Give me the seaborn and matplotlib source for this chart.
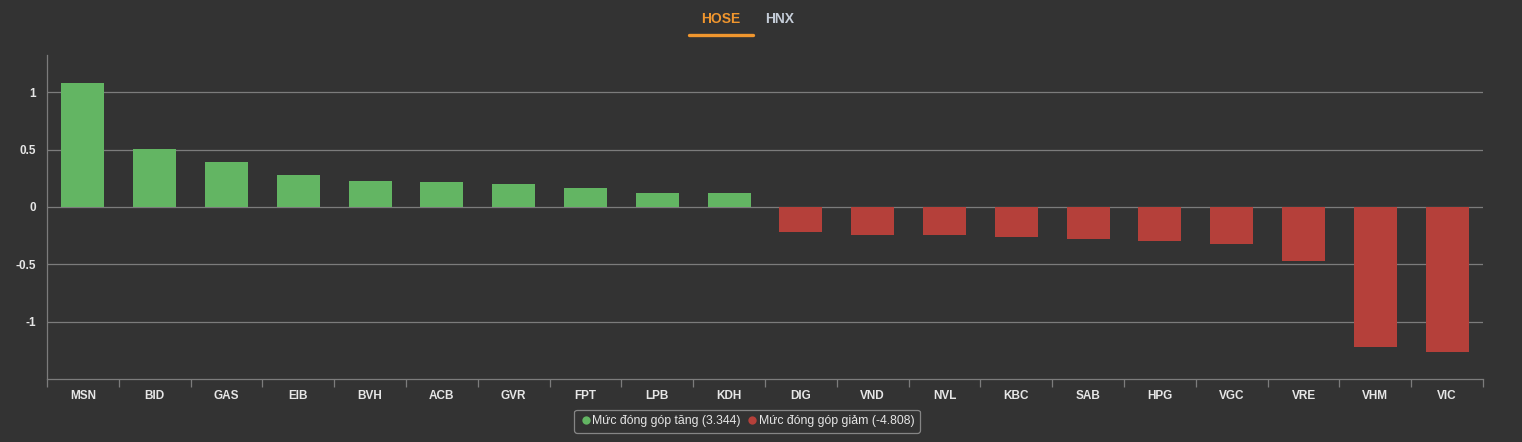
import matplotlib
matplotlib.use("Agg")
import matplotlib.pyplot as plt
from matplotlib.lines import Line2D
from matplotlib.ticker import FixedLocator, FuncFormatter
import seaborn as sns
import pandas as pd
import numpy as np

# ---- data ----
tickers = ["MSN", "BID", "GAS", "EIB", "BVH", "ACB", "GVR", "FPT", "LPB", "KDH",
           "DIG", "VND", "NVL", "KBC", "SAB", "HPG", "VGC", "VRE", "VHM", "VIC"]
values = [1.08, 0.507, 0.391, 0.276, 0.223, 0.214, 0.197, 0.162, 0.126, 0.126,
          -0.22, -0.247, -0.247, -0.258, -0.282, -0.299, -0.325, -0.473, -1.221, -1.264]
total_up = 3.344
total_down = -4.808
tabs = ["HOSE", "HNX"]
y_ticks = [-1, -0.5, 0, 0.5, 1]

BG = "#333333"
GREEN = "#63b563"
RED = "#b5403a"
GRID = "#7c7c7c"
TXT = "#e6e6e6"

label_up = f"Mức đóng góp tăng ({total_up})"
label_down = f"Mức đóng góp giảm ({total_down})"

df = pd.DataFrame({"ticker": tickers, "value": values})
df["group"] = np.where(df["value"] >= 0, label_up, label_down)

sns.set_theme(style="dark")
plt.rcParams["font.family"] = ["Liberation Sans", "DejaVu Sans"]

fig = plt.figure(figsize=(15.22, 4.42), dpi=100, facecolor=BG)
ax = fig.add_axes([47 / 1522, 1 - 379 / 442, (1483 - 47) / 1522, (379 - 55) / 442])
ax.set_facecolor(BG)

sns.barplot(data=df, x="ticker", y="value", hue="group",
            palette={label_up: GREEN, label_down: RED},
            dodge=False, width=0.6, saturation=1, legend=False, ax=ax, zorder=3)
for p in ax.patches:
    p.set_edgecolor("none")

ax.set_xlim(-0.5, len(tickers) - 0.5)
ax.set_ylim(-1.5, 1.325)
ax.set_xlabel("")
ax.set_ylabel("")

ax.yaxis.set_major_locator(FixedLocator(y_ticks))
ax.yaxis.set_major_formatter(FuncFormatter(lambda v, _: f"{v:g}"))
ax.yaxis.grid(True, color=GRID, linewidth=0.9, zorder=0)
ax.xaxis.grid(False)
ax.tick_params(axis="y", left=True, length=0, pad=8, labelsize=8.5, labelcolor=TXT)
for lab in ax.get_yticklabels():
    lab.set_fontweight("bold")

ax.tick_params(axis="x", which="major", bottom=True, length=0, pad=8, labelsize=8.5, labelcolor=TXT)
for lab in ax.get_xticklabels():
    lab.set_fontweight("bold")
ax.xaxis.set_minor_locator(FixedLocator(np.arange(-0.5, len(tickers), 1.0)))
ax.tick_params(axis="x", which="minor", bottom=True, length=6, width=0.9, color=GRID, direction="out")

for side in ["top", "right"]:
    ax.spines[side].set_visible(False)
for side in ["left", "bottom"]:
    ax.spines[side].set_visible(True)
    ax.spines[side].set_color(GRID)
    ax.spines[side].set_linewidth(0.9)

# tabs
fig.text(721 / 1522, 1 - 19 / 442, tabs[0], color="#f0962e", fontsize=10,
         fontweight="bold", ha="center", va="center")
fig.text(780 / 1522, 1 - 19 / 442, tabs[1], color="#c5cdd8", fontsize=10,
         fontweight="bold", ha="center", va="center")
fig.add_artist(Line2D([689 / 1522, 753 / 1522], [1 - 35 / 442, 1 - 35 / 442],
                      color="#f0962e", linewidth=2.4, transform=fig.transFigure))

# legend
handles = [
    Line2D([], [], marker="o", linestyle="none", markersize=6,
           markerfacecolor=GREEN, markeredgecolor="none", label=label_up),
    Line2D([], [], marker="o", linestyle="none", markersize=6,
           markerfacecolor=RED, markeredgecolor="none", label=label_down),
]
leg = fig.legend(handles=handles, loc="center", bbox_to_anchor=(747 / 1522, 1 - 421 / 442),
                 ncol=2, frameon=True, fancybox=True, fontsize=8.8,
                 handletextpad=0.05, columnspacing=0.4, handlelength=1.0,
                 borderpad=0.45, labelcolor=TXT, facecolor=BG, edgecolor="#9a9a9a")
leg.get_frame().set_linewidth(0.9)

fig.savefig("out.png", dpi=100, facecolor=BG)
